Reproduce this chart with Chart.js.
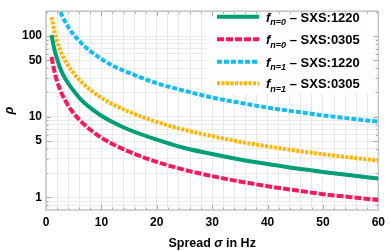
<!DOCTYPE html>
<html>
<head>
<meta charset="utf-8">
<script src="https://cdn.jsdelivr.net/npm/chart.js@4.4.1/dist/chart.umd.min.js"></script>
<style>
html,body{margin:0;padding:0;background:#fff}
#wrap{width:390px;height:251px}
</style>
</head>
<body>
<div id="wrap"><canvas id="myChart" width="390" height="251"></canvas></div>
<script>
// values
const sigma   = [1, 1.5, 2, 2.5, 3, 4, 5, 6, 7, 8, 10, 12, 15, 20, 25, 30, 35, 40, 45, 50, 55, 60];
const n0_1220 = [103, 69, 52, 41, 34, 26, 21, 17.2, 14.7, 12.9, 10.3, 8.6, 6.9, 5.2, 4.1, 3.45, 2.95, 2.6, 2.3, 2.07, 1.88, 1.72];
const n0_0305 = [55, 37, 27.5, 22, 18.3, 13.8, 11, 9.2, 7.9, 6.9, 5.5, 4.6, 3.7, 2.76, 2.2, 1.84, 1.58, 1.38, 1.23, 1.1, 1.01, 0.93];
const n1_1220 = [520, 347, 260, 208, 173, 130, 104, 87, 74, 65, 52, 43, 35, 26, 21, 17.3, 14.9, 13, 11.6, 10.4, 9.5, 8.7];
const n1_0305 = [172, 115, 86, 69, 57, 43, 34.4, 28.7, 24.6, 21.5, 17.2, 14.3, 11.5, 8.6, 6.9, 5.75, 4.9, 4.3, 3.82, 3.44, 3.13, 2.87];

const yTicks  = [0.8, 0.9, 1, 2, 3, 4, 5, 6, 7, 8, 9, 10, 20, 30, 40, 50, 60, 70, 80, 90, 100, 200];
const yLabels = [1, 5, 10, 50, 100];
const xLabels = [0, 10, 20, 30, 40, 50, 60];

const series = [
  {sub: 'n=0', name: 'SXS:1220', vals: n0_1220, color: '#009e78', dash: []},
  {sub: 'n=0', name: 'SXS:0305', vals: n0_0305, color: '#f5195e', dash: [7, 2]},
  {sub: 'n=1', name: 'SXS:1220', vals: n1_1220, color: '#12bcf4', dash: [5, 2]},
  {sub: 'n=1', name: 'SXS:0305', vals: n1_0305, color: '#ffb400', dash: [3, 1.5]}
];

const FONT = '"Liberation Sans", Arial, sans-serif';

// frame, inward ticks, legend and axis titles
const extras = {
  id: 'extras',
  beforeDatasetsDraw(chart) {
    const {ctx, chartArea: a, scales: {x, y}} = chart;
    ctx.save();
    // legend box
    ctx.fillStyle = 'rgba(255,255,255,0.85)';
    ctx.fillRect(206, 8, 168, 86);
    // ticks
    ctx.strokeStyle = '#a8a8a8';
    ctx.lineWidth = 1;
    ctx.beginPath();
    for (let v = 0; v <= 60; v += 2) {
      const px = Math.round(x.getPixelForValue(v)) + 0.5;
      const len = v % 10 === 0 ? 5 : 2.5;
      ctx.moveTo(px, a.bottom); ctx.lineTo(px, a.bottom - len);
      ctx.moveTo(px, a.top); ctx.lineTo(px, a.top + len);
    }
    yTicks.forEach(v => {
      const py = Math.round(y.getPixelForValue(v)) + 0.5;
      const len = yLabels.includes(v) ? 5 : 2.5;
      ctx.moveTo(a.left, py); ctx.lineTo(a.left + len, py);
      ctx.moveTo(a.right, py); ctx.lineTo(a.right - len, py);
    });
    ctx.stroke();
    // frame
    ctx.strokeStyle = '#c4c4c4';
    ctx.lineWidth = 1.5;
    ctx.strokeRect(a.left, a.top, a.right - a.left, a.bottom - a.top);
    ctx.restore();
  },
  afterDatasetsDraw(chart) {
    const {ctx, chartArea: a} = chart;
    ctx.save();
    const rows = [16.7, 39.3, 61.7, 83.3];
    series.forEach((s, i) => {
      const ry = rows[i];
      ctx.strokeStyle = s.color;
      ctx.lineWidth = 4;
      ctx.setLineDash(s.dash);
      ctx.beginPath();
      ctx.moveTo(217, ry); ctx.lineTo(259, ry);
      ctx.stroke();
      ctx.setLineDash([]);
      ctx.fillStyle = '#000';
      ctx.textBaseline = 'alphabetic';
      let tx = 266;
      ctx.font = 'italic bold 13px ' + FONT;
      ctx.fillText('f', tx, ry + 5);
      tx += ctx.measureText('f').width;
      ctx.font = 'italic bold 9px ' + FONT;
      ctx.fillText(s.sub, tx, ry + 8.3);
      tx += ctx.measureText(s.sub).width;
      ctx.font = 'bold 13px ' + FONT;
      ctx.fillText(' \u2013 ' + s.name, tx, ry + 5);
    });
    // x title
    const parts = [['Spread ', 'bold'], ['\u03c3', 'italic bold'], [' in Hz', 'bold']];
    let w = 0;
    parts.forEach(p => { ctx.font = p[1] + ' 12.5px ' + FONT; w += ctx.measureText(p[0]).width; });
    let px = (a.left + a.right) / 2 - w / 2;
    parts.forEach(p => {
      ctx.font = p[1] + ' 12.5px ' + FONT;
      ctx.fillText(p[0], px, 246.5);
      px += ctx.measureText(p[0]).width;
    });
    // y title
    ctx.translate(9, (a.top + a.bottom) / 2);
    ctx.rotate(-Math.PI / 2);
    ctx.font = 'italic bold 13px ' + FONT;
    ctx.textAlign = 'center';
    ctx.textBaseline = 'middle';
    ctx.fillText('\u03c1', 0, 0);
    ctx.restore();
  }
};

const config = {
  type: 'line',
  data: {
    datasets: series.map(s => ({
      label: s.name,
      data: sigma.map((v, i) => ({x: v, y: s.vals[i]})),
      borderColor: s.color,
      borderWidth: 4,
      borderDash: s.dash,
      pointRadius: 0,
      fill: false,
      cubicInterpolationMode: 'monotone',
      clip: 0
    }))
  },
  options: {
    responsive: false,
    animation: false,
    devicePixelRatio: 1,
    layout: {padding: {left: 0, right: 7, top: 3, bottom: 0}},
    plugins: {legend: {display: false}, tooltip: {enabled: false}},
    scales: {
      x: {
        type: 'linear',
        min: 0,
        max: 60,
        afterFit: s => { s.height = 41; },
        grid: {color: '#e8e8e8', drawTicks: false},
        border: {display: false},
        ticks: {
          stepSize: 2,
          autoSkip: false,
          maxRotation: 0,
          padding: 5,
          color: '#000',
          font: {family: FONT, size: 12, weight: 'bold'},
          callback: v => xLabels.includes(v) ? String(v) : ''
        }
      },
      y: {
        type: 'logarithmic',
        min: 0.72,
        max: 203,
        afterFit: s => { s.width = 46; },
        afterBuildTicks: s => { s.ticks = yTicks.map(v => ({value: v})); },
        grid: {color: '#ebebeb', drawTicks: false},
        border: {display: false},
        ticks: {
          autoSkip: false,
          padding: 4,
          color: '#000',
          font: {family: FONT, size: 12, weight: 'bold'},
          callback: v => yLabels.includes(v) ? String(v) : ''
        }
      }
    }
  },
  plugins: [extras]
};

new Chart(document.getElementById('myChart').getContext('2d'), config);
</script>
</body>
</html>
